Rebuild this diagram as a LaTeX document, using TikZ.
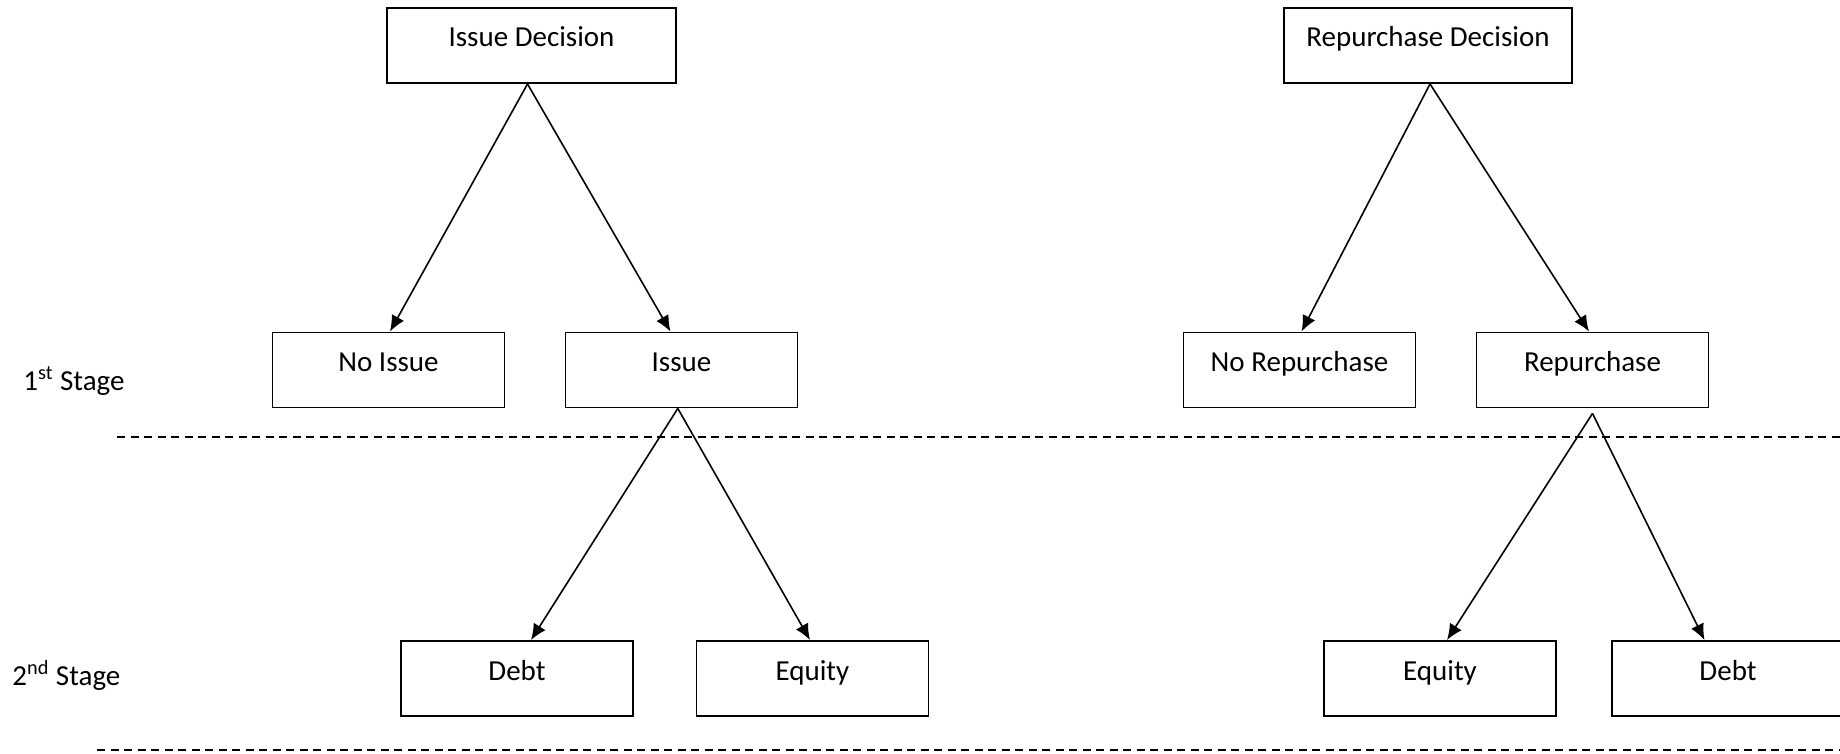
\documentclass[tikz,border=0pt]{standalone}
\usepackage{fontspec}
\setmainfont{Carlito}
\usetikzlibrary{arrows.meta}
\begin{document}
\begin{tikzpicture}[x=0.5pt,y=-0.5pt,
  box/.style={draw, line width=0.95pt, inner sep=0pt, minimum width=116pt,
    text height=19.5pt, text depth=18pt, font=\fontsize{14.5}{17}\selectfont},
  arr/.style={-{Latex[length=8pt,width=7pt]}, line width=0.8pt},
  sep/.style={dash pattern=on 4pt off 2.75pt, line width=0.65pt},
  stage/.style={anchor=base west, inner sep=0pt, font=\fontsize{14.5}{17}\selectfont}]
\useasboundingbox (0,0) rectangle (1840,754);
% top level
\node[box, minimum width=144.5pt] (ID) at (531.5,45.5) {Issue Decision};
\node[box, minimum width=144pt] (RD) at (1428,45.5) {Repurchase Decision};
% first stage
\node[box] (NI) at (388.5,370) {No Issue};
\node[box] (I)  at (681.5,370) {Issue};
\node[box] (NR) at (1299.5,370) {No Repurchase};
\node[box] (R)  at (1592.5,370) {Repurchase};
% second stage
\node[box] (D1) at (517,678.5) {Debt};
\node[box] (E1) at (812.5,678.5) {Equity};
\node[box] (E2) at (1440,678.5) {Equity};
\node[box] (D2) at (1728,678.5) {Debt};
% stage labels
\node[stage] (S1) at (23,390) {1\textsuperscript{st} Stage};
\node[stage] (S2) at (12,685) {2\textsuperscript{nd} Stage};
% separators
\draw[sep] (117,437) -- (1840,437);
\draw[sep] (97,750) -- (1840,750);
% connectors
\draw[arr] ([xshift=-2pt]ID.south) -- ([xshift=0.75pt]NI.north);
\draw[arr] ([xshift=-2pt]ID.south) -- ([xshift=-5.5pt]I.north);
\draw[arr] ([xshift=-1.85pt]I.south) -- ([xshift=7pt]D1.north);
\draw[arr] ([xshift=-1.85pt]I.south) -- ([xshift=-1.25pt]E1.north);
\draw[arr] ([xshift=1pt]RD.south) -- ([xshift=1pt]NR.north);
\draw[arr] ([xshift=1pt]RD.south) -- ([xshift=-1.75pt]R.north);
\draw[arr] ([yshift=-2.5pt]R.south) -- ([xshift=3.5pt]E2.north);
\draw[arr] ([yshift=-2.5pt]R.south) -- ([xshift=-11.75pt]D2.north);
\end{tikzpicture}
\end{document}
